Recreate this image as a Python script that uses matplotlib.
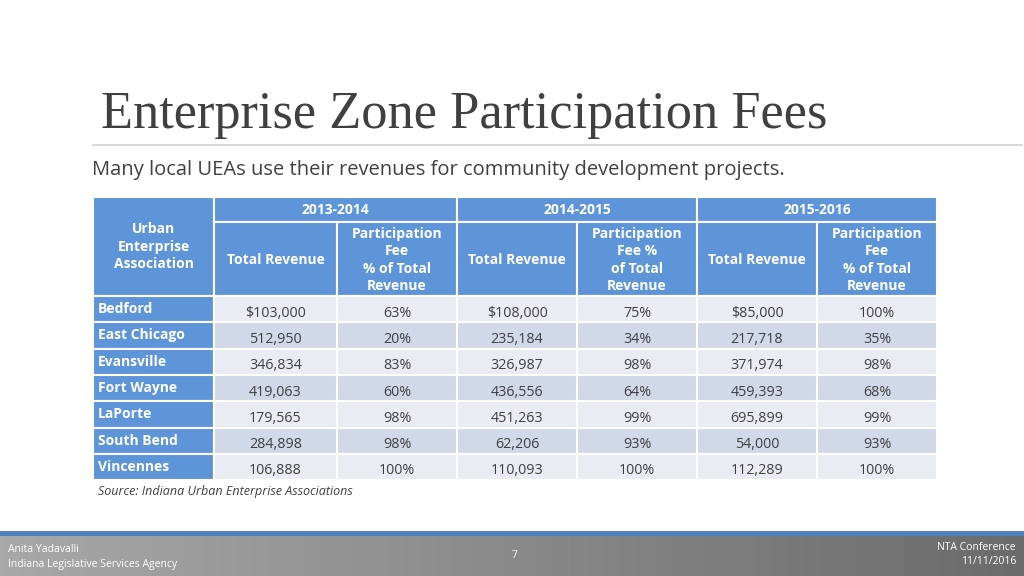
import numpy as np
import matplotlib.pyplot as plt
from matplotlib.patches import Rectangle
from matplotlib.colors import LinearSegmentedColormap

# ---- data ----
title = 'Enterprise Zone Participation Fees'
subtitle = 'Many local UEAs use their revenues for community development projects.'
source = 'Source: Indiana Urban Enterprise Associations'

years = ['2013-2014', '2014-2015', '2015-2016']
fee_headers = ['Participation\nFee\n% of Total\nRevenue',
               'Participation\nFee %\nof Total\nRevenue',
               'Participation\nFee\n% of Total\nRevenue']
first_header = 'Urban\nEnterprise\nAssociation'

cities = ['Bedford', 'East Chicago', 'Evansville', 'Fort Wayne',
          'LaPorte', 'South Bend', 'Vincennes']
rev_2014 = ['$103,000', '512,950', '346,834', '419,063', '179,565', '284,898', '106,888']
fee_2014 = ['63%', '20%', '83%', '60%', '98%', '98%', '100%']
rev_2015 = ['$108,000', '235,184', '326,987', '436,556', '451,263', '62,206', '110,093']
fee_2015 = ['75%', '34%', '98%', '64%', '99%', '93%', '100%']
rev_2016 = ['$85,000', '217,718', '371,974', '459,393', '695,899', '54,000', '112,289']
fee_2016 = ['100%', '35%', '98%', '68%', '99%', '93%', '100%']

footer_left = ['Anita Yadavalli', 'Indiana Legislative Services Agency']
footer_right = ['NTA Conference', '11/11/2016']
page = '7'

# ---- layout (pixels) ----
W, H = 1024, 576
col_edges = [93, 214, 337, 457, 577, 697, 817, 937]
hdr_top, hdr_mid, hdr_bot = 197, 222, 296
row_h = 26.3

blue = '#5E95D8'
light = '#E9ECF3'
dark = '#D1D8E8'
txt = '#404040'
font = 'Open Sans'

fig = plt.figure(figsize=(W / 100, H / 100), dpi=100)
ax = fig.add_axes([0, 0, 1, 1])
ax.set_xlim(0, W)
ax.set_ylim(H, 0)
ax.axis('off')

# title + rule + subtitle
ax.text(101, 128, title, fontsize=37.7, family='Liberation Serif', color=txt, va='baseline')
ax.plot([93, 1022], [145, 145], color='#d0d0d0', lw=1.2)
ax.text(92, 170, subtitle, fontsize=14.5, family=font, color=txt, va='center')

def cell(x0, x1, y0, y1, fc):
    ax.add_patch(Rectangle((x0, y0), x1 - x0, y1 - y0, facecolor=fc,
                           edgecolor='white', lw=1.5))

# header
cell(col_edges[0], col_edges[1], hdr_top, hdr_bot, blue)
ax.text((col_edges[0] + col_edges[1]) / 2, (hdr_top + hdr_bot) / 2, first_header,
        ha='center', va='center', color='white', fontsize=10, weight='bold',
        family=font, linespacing=1.3)
for g, yr in enumerate(years):
    xa, xb, xc = col_edges[1 + 2 * g], col_edges[2 + 2 * g], col_edges[3 + 2 * g]
    cell(xa, xc, hdr_top, hdr_mid, blue)
    ax.text((xa + xc) / 2, (hdr_top + hdr_mid) / 2 + 1, yr, ha='center', va='center',
            color='white', fontsize=10, weight='bold', family=font)
    cell(xa, xb, hdr_mid, hdr_bot, blue)
    ax.text((xa + xb) / 2, (hdr_mid + hdr_bot) / 2 + 1, 'Total Revenue', ha='center',
            va='center', color='white', fontsize=10, weight='bold', family=font)
    cell(xb, xc, hdr_mid, hdr_bot, blue)
    ax.text((xb + xc) / 2, (hdr_mid + hdr_bot) / 2 + 1, fee_headers[g], ha='center',
            va='center', color='white', fontsize=10, weight='bold', family=font,
            linespacing=1.3)

# body
columns = [rev_2014, fee_2014, rev_2015, fee_2015, rev_2016, fee_2016]
for i, name in enumerate(cities):
    y0 = hdr_bot + i * row_h
    y1 = y0 + row_h
    cell(col_edges[0], col_edges[1], y0, y1, blue)
    ax.text(col_edges[0] + 5, (y0 + y1) / 2, name, ha='left', va='center',
            color='white', fontsize=10, weight='bold', family=font)
    fc = light if i % 2 == 0 else dark
    for j, col in enumerate(columns):
        cell(col_edges[1 + j], col_edges[2 + j], y0, y1, fc)
        ax.text((col_edges[1 + j] + col_edges[2 + j]) / 2, (y0 + y1) / 2 + 4, col[i],
                ha='center', va='center', color=txt, fontsize=10.3, family=font)

ax.text(98, 491, source, fontsize=9, style='italic', family=font, color=txt, va='center')

# footer
ax.add_patch(Rectangle((0, 531), W, 5, facecolor='#4F81BD', edgecolor='none'))
grey_cmap = LinearSegmentedColormap.from_list('footer', ['#a8a8a8', '#6b6b6b'])
grad = np.linspace(0, 1, 256).reshape(1, -1)
ax.imshow(grad, extent=(0, W, 576, 536), aspect='auto', cmap=grey_cmap, zorder=0)
ax.set_xlim(0, W)
ax.set_ylim(H, 0)
ax.text(8, 550, footer_left[0], fontsize=7.5, color='white', family=font, va='center')
ax.text(8, 564, footer_left[1], fontsize=7.5, color='white', family=font, va='center')
ax.text(514, 556, page, fontsize=7.5, color='white', family=font, va='center', ha='center')
ax.text(1016, 548, footer_right[0], fontsize=7.5, color='white', family=font,
        va='center', ha='right')
ax.text(1016, 562, footer_right[1], fontsize=7.5, color='white', family=font,
        va='center', ha='right')

fig.savefig('out.png', dpi=100)
